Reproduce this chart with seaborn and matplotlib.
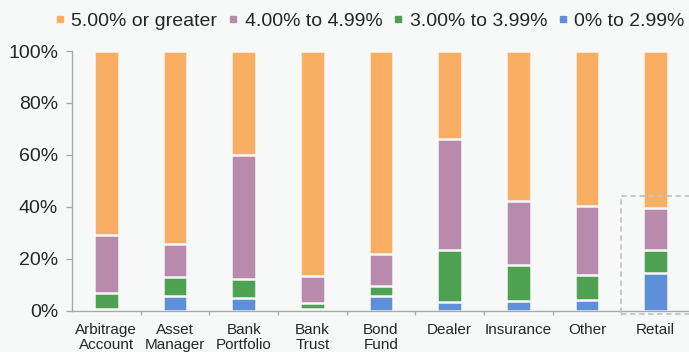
import matplotlib
matplotlib.use("Agg")
import matplotlib.pyplot as plt
from matplotlib.lines import Line2D
from matplotlib.patches import Rectangle
import numpy as np
import pandas as pd
import seaborn as sns

# Investor types and the share of each yield bucket (percent of holdings)
categories = ["Arbitrage\nAccount", "Asset\nManager", "Bank\nPortfolio", "Bank\nTrust",
              "Bond\nFund", "Dealer", "Insurance", "Other", "Retail"]
share_0_299 = [0.6, 5.4, 4.8, 0.4, 5.4, 3.3, 3.5, 4.2, 14.3]
share_300_399 = [6.0, 7.7, 7.2, 2.6, 3.9, 20.2, 14.1, 9.3, 9.2]
share_400_499 = [22.4, 12.6, 48.0, 10.3, 12.5, 42.5, 24.7, 26.8, 15.9]
share_500_plus = [71.0, 74.3, 40.0, 86.7, 78.2, 34.0, 57.7, 59.7, 60.6]

bucket_labels = ["5.00% or greater", "4.00% to 4.99%", "3.00% to 3.99%", "0% to 2.99%"]
bucket_colors = ["#F8AF64", "#B88BAD", "#4FA152", "#5E90DA"]
y_ticks = [0, 20, 40, 60, 80, 100]
y_tick_labels = ["0%", "20%", "40%", "60%", "80%", "100%"]

bg = "#F7F8F8"
sns.set_theme(style="white")
plt.rcParams["font.family"] = ["Liberation Sans", "DejaVu Sans"]

df = pd.DataFrame({
    "category": categories,
    "b0": share_0_299,
    "b3": share_300_399,
    "b4": share_400_499,
    "b5": share_500_plus,
})
# cumulative tops, bottom bucket first
df["top0"] = df["b0"]
df["top3"] = df["top0"] + df["b3"]
df["top4"] = df["top3"] + df["b4"]
df["top5"] = df["top4"] + df["b5"]

fig = plt.figure(figsize=(6.89, 3.52), dpi=100, facecolor=bg)
ax = fig.add_axes([72 / 689, (352 - 310.5) / 352, 618 / 689, 259.5 / 352])
ax.set_facecolor(bg)

# Stack by overlaying cumulative bars, tallest first
for col, color in zip(["top5", "top4", "top3", "top0"], bucket_colors):
    sns.barplot(data=df, x="category", y=col, color=color, width=0.36,
                edgecolor=bg, linewidth=1.8, saturation=1, ax=ax)

ax.set_xlim(-0.5, len(categories) - 0.5)
ax.set_ylim(0, 100)
ax.set_xlabel("")
ax.set_ylabel("")
ax.set_yticks(y_ticks)
ax.set_yticklabels(y_tick_labels)
ax.tick_params(axis="y", which="major", left=True, length=4, width=0.9,
               color="#a5a5a5", pad=6, labelsize=14, labelcolor="#262626")
ax.tick_params(axis="x", which="major", bottom=False, length=0, pad=9,
               labelsize=11, labelcolor="#262626")
ax.set_xticks(np.arange(len(categories)) + 0.5, minor=True)
ax.tick_params(axis="x", which="minor", bottom=True, length=3, width=0.9, color="#a5a5a5")
for lbl in ax.get_xticklabels():
    lbl.set_linespacing(1.05)

for side in ["top", "right"]:
    ax.spines[side].set_visible(False)
for side in ["left", "bottom"]:
    ax.spines[side].set_color("#a8a8a8")
    ax.spines[side].set_linewidth(1.0)

# Dashed highlight around the retail bar
ax.add_patch(Rectangle((7.5, -1.5), 1.2, 45.5, fill=False, linestyle=(0, (3, 2)),
                       edgecolor="#c4c4c4", linewidth=1.3, clip_on=False, zorder=5))

handles = [Line2D([0], [0], marker="s", linestyle="", markersize=5,
                  markerfacecolor=c, markeredgecolor=c) for c in bucket_colors]
fig.legend(handles, bucket_labels, ncol=4, loc="center right",
           bbox_to_anchor=(1.005, 0.94), frameon=False, fontsize=14,
           handlelength=0.5, handletextpad=0.35, columnspacing=0.55,
           labelcolor="#262626", borderaxespad=0)

fig.savefig("out.png", dpi=100, facecolor=bg)
